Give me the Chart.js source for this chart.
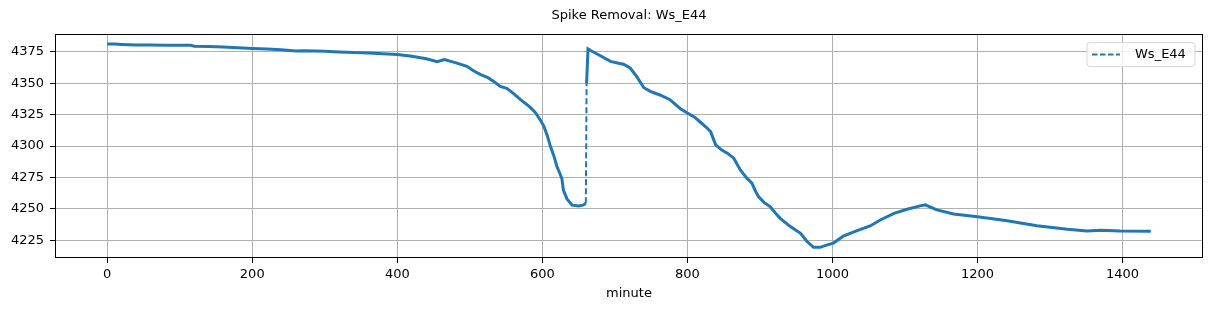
<!DOCTYPE html>
<html>
<head>
<meta charset="utf-8">
<script src="https://cdn.jsdelivr.net/npm/chart.js@4.4.1/dist/chart.umd.min.js"></script>
<style>
  html, body { margin: 0; padding: 0; background: #fff; }
  #wrap { width: 1211px; height: 311px; }
</style>
</head>
<body>
<div id="wrap"><canvas id="c" width="1211" height="311"></canvas></div>
<script>
const seriesLabel = 'Ws_E44';
const chartTitle = 'Spike Removal: Ws_E44';
const xAxisLabel = 'minute';

const minutes = [
  0, 10, 20, 40, 60, 80, 100, 115, 120, 140, 160, 180, 200, 220, 240, 260, 270, 300, 320, 340,
  360, 380, 400, 420, 440, 455, 465, 480, 496, 505, 515, 525, 533, 542, 551, 560, 570, 583, 590, 597,
  602, 607, 611, 616, 620, 625, 627, 629, 634, 641, 650, 656, 660, 661, 663, 666, 680, 694, 705, 712,
  721, 730, 740, 749, 763, 776, 790, 800, 810, 818, 826, 832, 839, 847, 855, 864, 873, 882, 889, 894,
  898, 906, 914, 921, 928, 942, 956, 965, 974, 983, 993, 1002, 1015, 1034, 1052, 1066, 1085, 1103, 1121, 1128,
  1144, 1167, 1200, 1241, 1282, 1324, 1351, 1370, 1397, 1439
];
const wsValues = [
  4381.4, 4381.3, 4381.0, 4380.6, 4380.5, 4380.4, 4380.4, 4380.3, 4379.5, 4379.3, 4379.0, 4378.3, 4377.8, 4377.3, 4376.8, 4375.8, 4376.0, 4375.5, 4375.0, 4374.6,
  4374.2, 4373.6, 4373.0, 4371.5, 4369.5, 4367.2, 4369.0, 4366.5, 4363.5, 4360.0, 4357.0, 4354.5, 4351.5, 4347.5, 4346.0, 4342.0, 4337.0, 4331.0, 4327.0, 4321.0,
  4316.0, 4308.0, 4300.0, 4292.0, 4284.0, 4277.0, 4274.0, 4265.0, 4258.0, 4253.0, 4252.3, 4253.0, 4254.5, 4350.0, 4377.4, 4376.3, 4372.0, 4367.5, 4366.0, 4365.2,
  4362.2, 4355.5, 4346.5, 4343.6, 4340.5, 4337.0, 4330.0, 4326.3, 4323.0, 4319.0, 4315.0, 4311.5, 4301.0, 4297.0, 4294.4, 4290.4, 4281.0, 4274.5, 4270.5, 4264.0,
  4259.8, 4255.0, 4251.8, 4247.0, 4242.5, 4235.9, 4230.6, 4224.0, 4219.4, 4219.4, 4221.3, 4223.0, 4228.4, 4232.7, 4236.4, 4241.2, 4246.5, 4249.7, 4252.4, 4253.3,
  4249.2, 4246.0, 4243.8, 4240.6, 4236.6, 4233.8, 4232.4, 4233.0, 4232.4, 4232.2
];
const xTicks = [0, 200, 400, 600, 800, 1000, 1200, 1400];
const yTicks = [4225, 4250, 4275, 4300, 4325, 4350, 4375];

const lineColor = '#1f77b4';
const FONT = "'DejaVu Sans', sans-serif";

const points = minutes.map((m, i) => ({ x: m, y: wsValues[i] }));

const framePlugin = {
  id: 'frame',
  afterDraw(chart) {
    const { ctx, chartArea: a } = chart;
    ctx.save();
    ctx.strokeStyle = '#000';
    ctx.lineWidth = 1;
    ctx.strokeRect(Math.round(a.left) + 0.5, Math.round(a.top) + 0.5,
                   Math.round(a.right - a.left) - 1, Math.round(a.bottom - a.top) - 1);
    // legend inside axes, upper right
    const bw = 108, bh = 24;
    const bx = a.right - 8 - bw, by = a.top + 9;
    const r = 3;
    ctx.beginPath();
    ctx.moveTo(bx + r, by);
    ctx.lineTo(bx + bw - r, by);
    ctx.quadraticCurveTo(bx + bw, by, bx + bw, by + r);
    ctx.lineTo(bx + bw, by + bh - r);
    ctx.quadraticCurveTo(bx + bw, by + bh, bx + bw - r, by + bh);
    ctx.lineTo(bx + r, by + bh);
    ctx.quadraticCurveTo(bx, by + bh, bx, by + bh - r);
    ctx.lineTo(bx, by + r);
    ctx.quadraticCurveTo(bx, by, bx + r, by);
    ctx.closePath();
    ctx.fillStyle = 'rgba(255,255,255,0.8)';
    ctx.fill();
    ctx.strokeStyle = '#d6d6d6';
    ctx.lineWidth = 1;
    ctx.stroke();
    const ly = by + bh / 2;
    ctx.beginPath();
    ctx.setLineDash([5.5, 2.5]);
    ctx.strokeStyle = lineColor;
    ctx.lineWidth = 2;
    ctx.moveTo(bx + 5, ly);
    ctx.lineTo(bx + 33, ly);
    ctx.stroke();
    ctx.setLineDash([]);
    ctx.fillStyle = '#000';
    ctx.font = '13px ' + FONT;
    ctx.textBaseline = 'middle';
    ctx.textAlign = 'left';
    ctx.fillText(chart.data.datasets[0].label, bx + 48, ly + 0.5);
    ctx.restore();
  }
};

new Chart(document.getElementById('c'), {
  type: 'line',
  data: {
    datasets: [{
      label: seriesLabel,
      data: points,
      borderColor: lineColor,
      backgroundColor: lineColor,
      borderWidth: 3,
      pointRadius: 0,
      tension: 0,
      fill: false,
      segment: {
        borderDash: ctx => (ctx.p1.parsed.y - ctx.p0.parsed.y > 50 ? [6, 3] : undefined),
        borderWidth: ctx => (ctx.p1.parsed.y - ctx.p0.parsed.y > 50 ? 2 : undefined)
      }
    }]
  },
  options: {
    responsive: false,
    animation: false,
    devicePixelRatio: 1,
    layout: { padding: { left: 0, right: 8, top: 0, bottom: 0 } },
    plugins: {
      legend: { display: false },
      tooltip: { enabled: false },
      title: {
        display: true,
        fullSize: false,
        text: chartTitle,
        color: '#000',
        font: { family: FONT, size: 13, weight: 'normal' },
        padding: { top: 8, bottom: 10 }
      }
    },
    scales: {
      x: {
        type: 'linear',
        min: -72,
        max: 1511,
        afterBuildTicks: s => { s.ticks = xTicks.map(v => ({ value: v })); },
        afterFit: s => { s.height = 53; },
        grid: { color: '#b0b0b0', lineWidth: 1, tickLength: 5, tickColor: '#000', drawTicks: true },
        border: { display: false },
        ticks: { color: '#000', font: { family: FONT, size: 13 }, padding: 4, maxRotation: 0, autoSkip: false,
                 callback: v => String(v) },
        title: {
          display: true,
          text: xAxisLabel,
          color: '#000',
          font: { family: FONT, size: 13 },
          padding: { top: 2, bottom: 10 }
        }
      },
      y: {
        type: 'linear',
        min: 4210.9,
        max: 4389.6,
        afterBuildTicks: s => { s.ticks = yTicks.map(v => ({ value: v })); },
        afterFit: s => { s.width = 55; },
        grid: { color: '#b0b0b0', lineWidth: 1, tickLength: 5, tickColor: '#000', drawTicks: true },
        border: { display: false },
        ticks: { color: '#000', font: { family: FONT, size: 13 }, padding: 6, autoSkip: false,
                 callback: v => String(v) }
      }
    }
  },
  plugins: [framePlugin]
});
</script>
</body>
</html>
